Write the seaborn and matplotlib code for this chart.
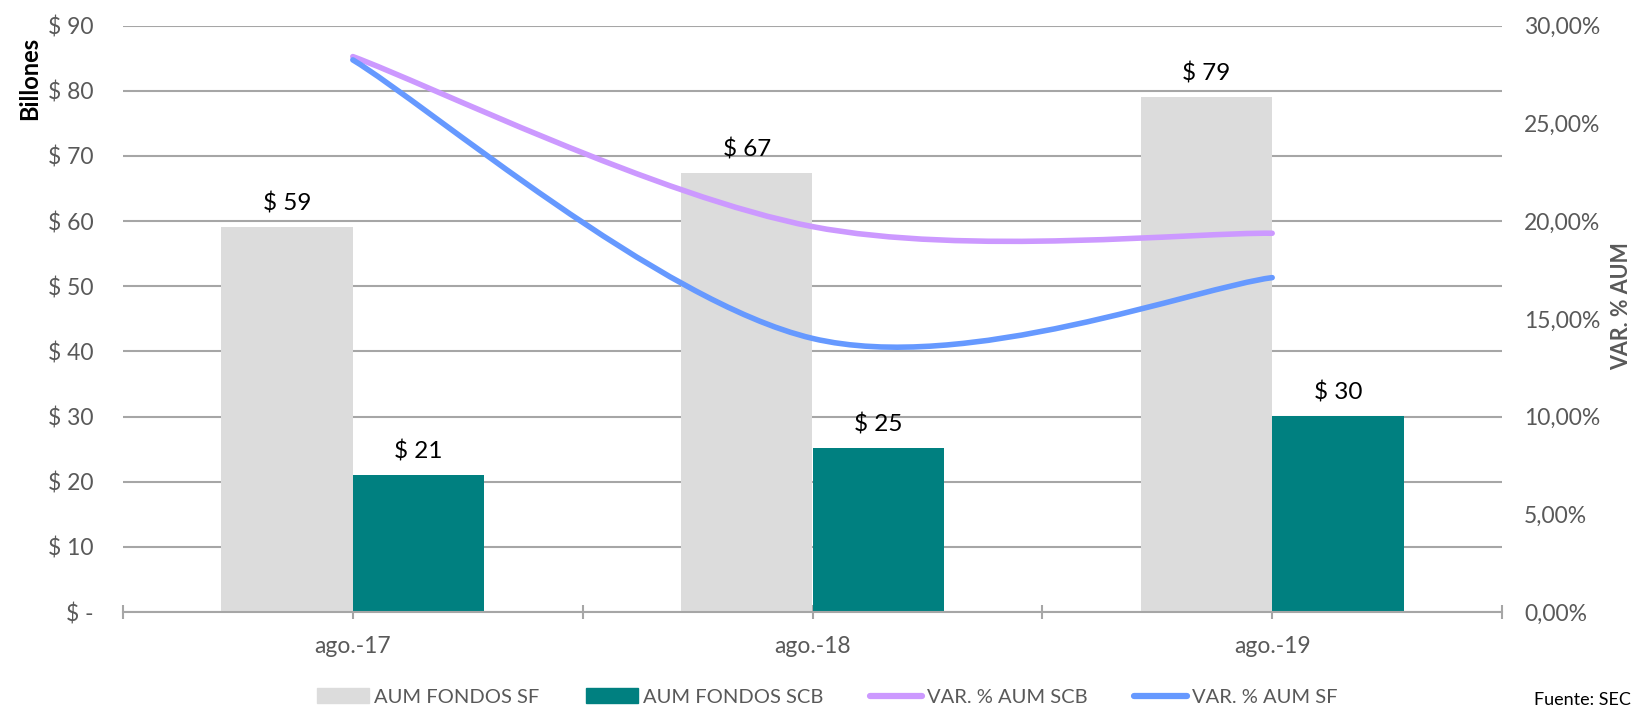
import numpy as np
import pandas as pd
import seaborn as sns
import matplotlib.pyplot as plt
from matplotlib.path import Path
from matplotlib.patches import PathPatch, Patch
from matplotlib.lines import Line2D
from matplotlib.ticker import FuncFormatter, FixedLocator

periods = ["ago.-17", "ago.-18", "ago.-19"]
aum_sf = [59.1, 67.4, 79.0]
aum_scb = [21.0, 25.2, 30.1]
var_scb = [28.42, 19.72, 19.38]
var_sf = [28.25, 14.0, 17.11]
bar_names = ["AUM FONDOS SF", "AUM FONDOS SCB"]
line_names = ["VAR. % AUM SCB", "VAR. % AUM SF"]

GRAY = "#DCDCDC"
TEAL = "#008080"
PURPLE = "#CC99FF"
BLUE = "#6699FF"
GRID = "#A6A6A6"
TXT = "#595959"


def smooth_path(xs, ys):
    # excel-like smoothed line: cubic bezier through the points
    pts = np.column_stack([xs, ys]).astype(float)
    n = len(pts)
    verts = [pts[0]]
    codes = [Path.MOVETO]
    for i in range(n - 1):
        p0 = pts[i - 1] if i > 0 else pts[i]
        p1, p2 = pts[i], pts[i + 1]
        p3 = pts[i + 2] if i + 2 < n else pts[i + 1]
        verts += [p1 + (p2 - p0) / 6, p2 - (p3 - p1) / 6, p2]
        codes += [Path.CURVE4] * 3
    return Path(verts, codes)


sns.set_style("white")
plt.rcParams['font.family'] = ['Lato', 'DejaVu Sans']

df = pd.DataFrame({
    "periodo": periods * 2,
    "serie": [bar_names[0]] * 3 + [bar_names[1]] * 3,
    "valor": aum_sf + aum_scb,
})

fig = plt.figure(figsize=(16.36, 7.05), dpi=100)
ax = fig.add_axes([123 / 1636, 1 - 612 / 705, (1502 - 123) / 1636, (612 - 25.7) / 705])

sns.barplot(data=df, x="periodo", y="valor", hue="serie", palette=[GRAY, TEAL],
            width=0.572, saturation=1, linewidth=0, legend=False, ax=ax)
for cont in ax.containers:
    ax.bar_label(cont, fmt="$ {:.0f}", padding=9, fontsize=17.5, color="black")

ax.set_xlim(-0.5, 2.5)
ax.set_ylim(0, 90)
ax.set_yticks(range(0, 91, 10))
ax.yaxis.set_major_formatter(FuncFormatter(lambda v, p: "$ -" if v == 0 else f"$ {v:.0f}"))
ax.xaxis.set_minor_locator(FixedLocator([-0.5, 0.5, 1.5, 2.5]))
ax.grid(axis='y', color=GRID, lw=1.5)
ax.set_axisbelow(True)
for s in ["top", "left", "right"]:
    ax.spines[s].set_visible(False)
ax.spines["bottom"].set_color(GRID)
ax.spines["bottom"].set_linewidth(1.5)
ax.tick_params(axis='y', length=0, pad=21, labelsize=16.5, labelcolor=TXT)
ax.tick_params(axis='x', which='both', direction='inout', length=10, width=1.5,
               color=GRID, pad=12, labelsize=16.5, labelcolor=TXT, bottom=True)
ax.set_xlabel("")
ax.set_ylabel("")

ax2 = ax.twinx()
ax2.set_ylim(0, 30)
ax2.set_yticks(range(0, 31, 5))
ax2.yaxis.set_major_formatter(FuncFormatter(lambda v, p: f"{v:.2f}%".replace(".", ",")))
ax2.tick_params(axis='y', length=0, pad=16, labelsize=16.5, labelcolor=TXT)
for s in ax2.spines.values():
    s.set_visible(False)
ax2.grid(False)

xs = np.arange(len(periods))
for vals, col in [(var_scb, PURPLE), (var_sf, BLUE)]:
    ax2.add_patch(PathPatch(smooth_path(xs, vals), fill=False, edgecolor=col, lw=4,
                            capstyle='round', joinstyle='round', transform=ax2.transData))

fig.text(30 / 1636, 1 - 78 / 705, "Billones", rotation=90, ha='center', va='center',
         fontsize=17, fontweight='bold', color='black')
fig.text(1622 / 1636, 1 - 306 / 705, "VAR. % AUM", rotation=90, ha='center', va='center',
         fontsize=15.5, fontweight='bold', color=TXT)

handles = [Patch(color=GRAY), Patch(color=TEAL),
           Line2D([], [], color=PURPLE, lw=4.5), Line2D([], [], color=BLUE, lw=4.5)]
fig.legend(handles, bar_names + line_names, loc='center', bbox_to_anchor=(0.5055, 1 - 697 / 705),
           ncol=4, frameon=False, fontsize=14.5, handlelength=2.6, handletextpad=0.25,
           columnspacing=2.3, labelcolor=TXT, borderpad=0)
fig.text(1534 / 1636, 1 - 700 / 705, "Fuente: SEC", ha='left', va='center', fontsize=13, color='black')

fig.savefig("out.png", dpi=100)
